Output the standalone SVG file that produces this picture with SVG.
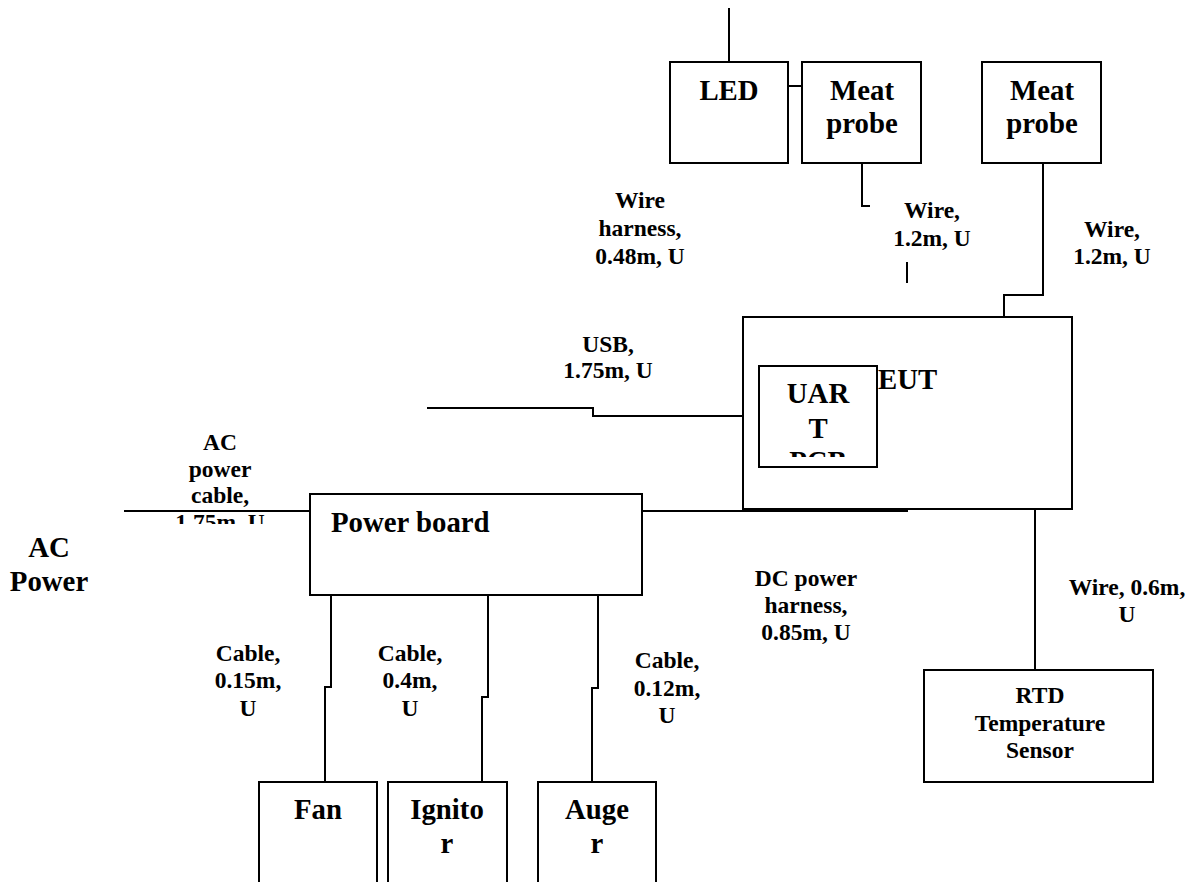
<svg xmlns="http://www.w3.org/2000/svg" width="1197" height="882" viewBox="0 0 1197 882">
<style>
.box{fill:#fff;stroke:#000;stroke-width:2}
.ln{fill:none;stroke:#000;stroke-width:2}
.lbl{font-family:"Liberation Serif","Times New Roman",serif;font-weight:bold;font-size:23.5px;text-anchor:middle;fill:#000}
.big{font-family:"Liberation Serif","Times New Roman",serif;font-weight:bold;font-size:28.8px;text-anchor:middle;fill:#000}
</style>
<defs>
<clipPath id="clipAC"><rect x="100" y="420" width="250" height="104"/></clipPath>
<clipPath id="clipUART"><rect x="759" y="366" width="118" height="91"/></clipPath>
</defs>
<rect width="1197" height="882" fill="#fff"/>
<g id="connectors">
<path class="ln" d="M729 8V62"/>
<path class="ln" d="M788 86H802"/>
<path class="ln" d="M862 163V206H870"/>
<path class="ln" d="M907 262V283"/>
<path class="ln" d="M1043 163V295H1004V317"/>
<path class="ln" d="M427 408H593V416H759"/>
<path class="ln" d="M124 511H310"/>
<path class="ln" d="M642 511H908"/>
<path class="ln" d="M1035 509V670"/>
<path class="ln" d="M331 595V687H325V782"/>
<path class="ln" d="M488 595V697H482V782"/>
<path class="ln" d="M598 595V688H592V782"/>
</g>
<g id="labels">
<text class="lbl"><tspan x="640" y="208">Wire</tspan><tspan x="640" y="236">harness,</tspan><tspan x="640" y="264">0.48m, U</tspan></text>
<text class="lbl"><tspan x="932" y="218">Wire,</tspan><tspan x="932" y="246">1.2m, U</tspan></text>
<text class="lbl"><tspan x="1112" y="237">Wire,</tspan><tspan x="1112" y="264">1.2m, U</tspan></text>
<text class="lbl"><tspan x="608" y="352">USB,</tspan><tspan x="608" y="378">1.75m, U</tspan></text>
<text class="lbl" clip-path="url(#clipAC)"><tspan x="220" y="450">AC</tspan><tspan x="220" y="477">power</tspan><tspan x="220" y="503">cable,</tspan><tspan x="220" y="530">1.75m, U</tspan></text>
<text class="big"><tspan x="49" y="557">AC</tspan><tspan x="49" y="591">Power</tspan></text>
<text class="lbl"><tspan x="806" y="586">DC power</tspan><tspan x="806" y="613">harness,</tspan><tspan x="806" y="640">0.85m, U</tspan></text>
<text class="lbl"><tspan x="1127" y="595">Wire, 0.6m,</tspan><tspan x="1127" y="622">U</tspan></text>
<text class="lbl"><tspan x="248" y="661">Cable,</tspan><tspan x="248" y="688">0.15m,</tspan><tspan x="248" y="716">U</tspan></text>
<text class="lbl"><tspan x="410" y="661">Cable,</tspan><tspan x="410" y="688">0.4m,</tspan><tspan x="410" y="716">U</tspan></text>
<text class="lbl"><tspan x="667" y="668">Cable,</tspan><tspan x="667" y="696">0.12m,</tspan><tspan x="667" y="723">U</tspan></text>
</g>
<g id="led"><rect class="box" x="670" y="62" width="118" height="101"/><text class="big" x="729" y="100">LED</text></g>
<g id="meat-probe-1"><rect class="box" x="802" y="62" width="119" height="101"/><text class="big"><tspan x="862" y="100">Meat</tspan><tspan x="862" y="133">probe</tspan></text></g>
<g id="meat-probe-2"><rect class="box" x="982" y="62" width="119" height="101"/><text class="big"><tspan x="1042" y="100">Meat</tspan><tspan x="1042" y="133">probe</tspan></text></g>
<g id="eut"><rect class="box" x="743" y="317" width="329" height="192"/><text class="big" x="878" y="389" style="text-anchor:start">EUT</text></g>
<g id="uart-pcb"><rect class="box" x="759" y="366" width="118" height="101"/><text class="big" clip-path="url(#clipUART)"><tspan x="818" y="403">UAR</tspan><tspan x="818" y="438">T</tspan><tspan x="818" y="471">PCB</tspan></text></g>
<path class="ln" d="M743 511H908"/>
<g id="power-board"><rect class="box" x="310" y="494" width="332" height="101"/><text class="big" x="331" y="532" style="text-anchor:start">Power board</text></g>
<g id="rtd"><rect class="box" x="924" y="670" width="229" height="112"/><text class="lbl"><tspan x="1040" y="703">RTD</tspan><tspan x="1040" y="731">Temperature</tspan><tspan x="1040" y="758">Sensor</tspan></text></g>
<g id="fan"><rect class="box" x="259" y="782" width="118" height="120"/><text class="big" x="318" y="819">Fan</text></g>
<g id="ignitor"><rect class="box" x="388" y="782" width="119" height="120"/><text class="big"><tspan x="447" y="819">Ignito</tspan><tspan x="447" y="853">r</tspan></text></g>
<g id="auger"><rect class="box" x="538" y="782" width="118" height="120"/><text class="big"><tspan x="597" y="819">Auge</tspan><tspan x="597" y="853">r</tspan></text></g>
</svg>
